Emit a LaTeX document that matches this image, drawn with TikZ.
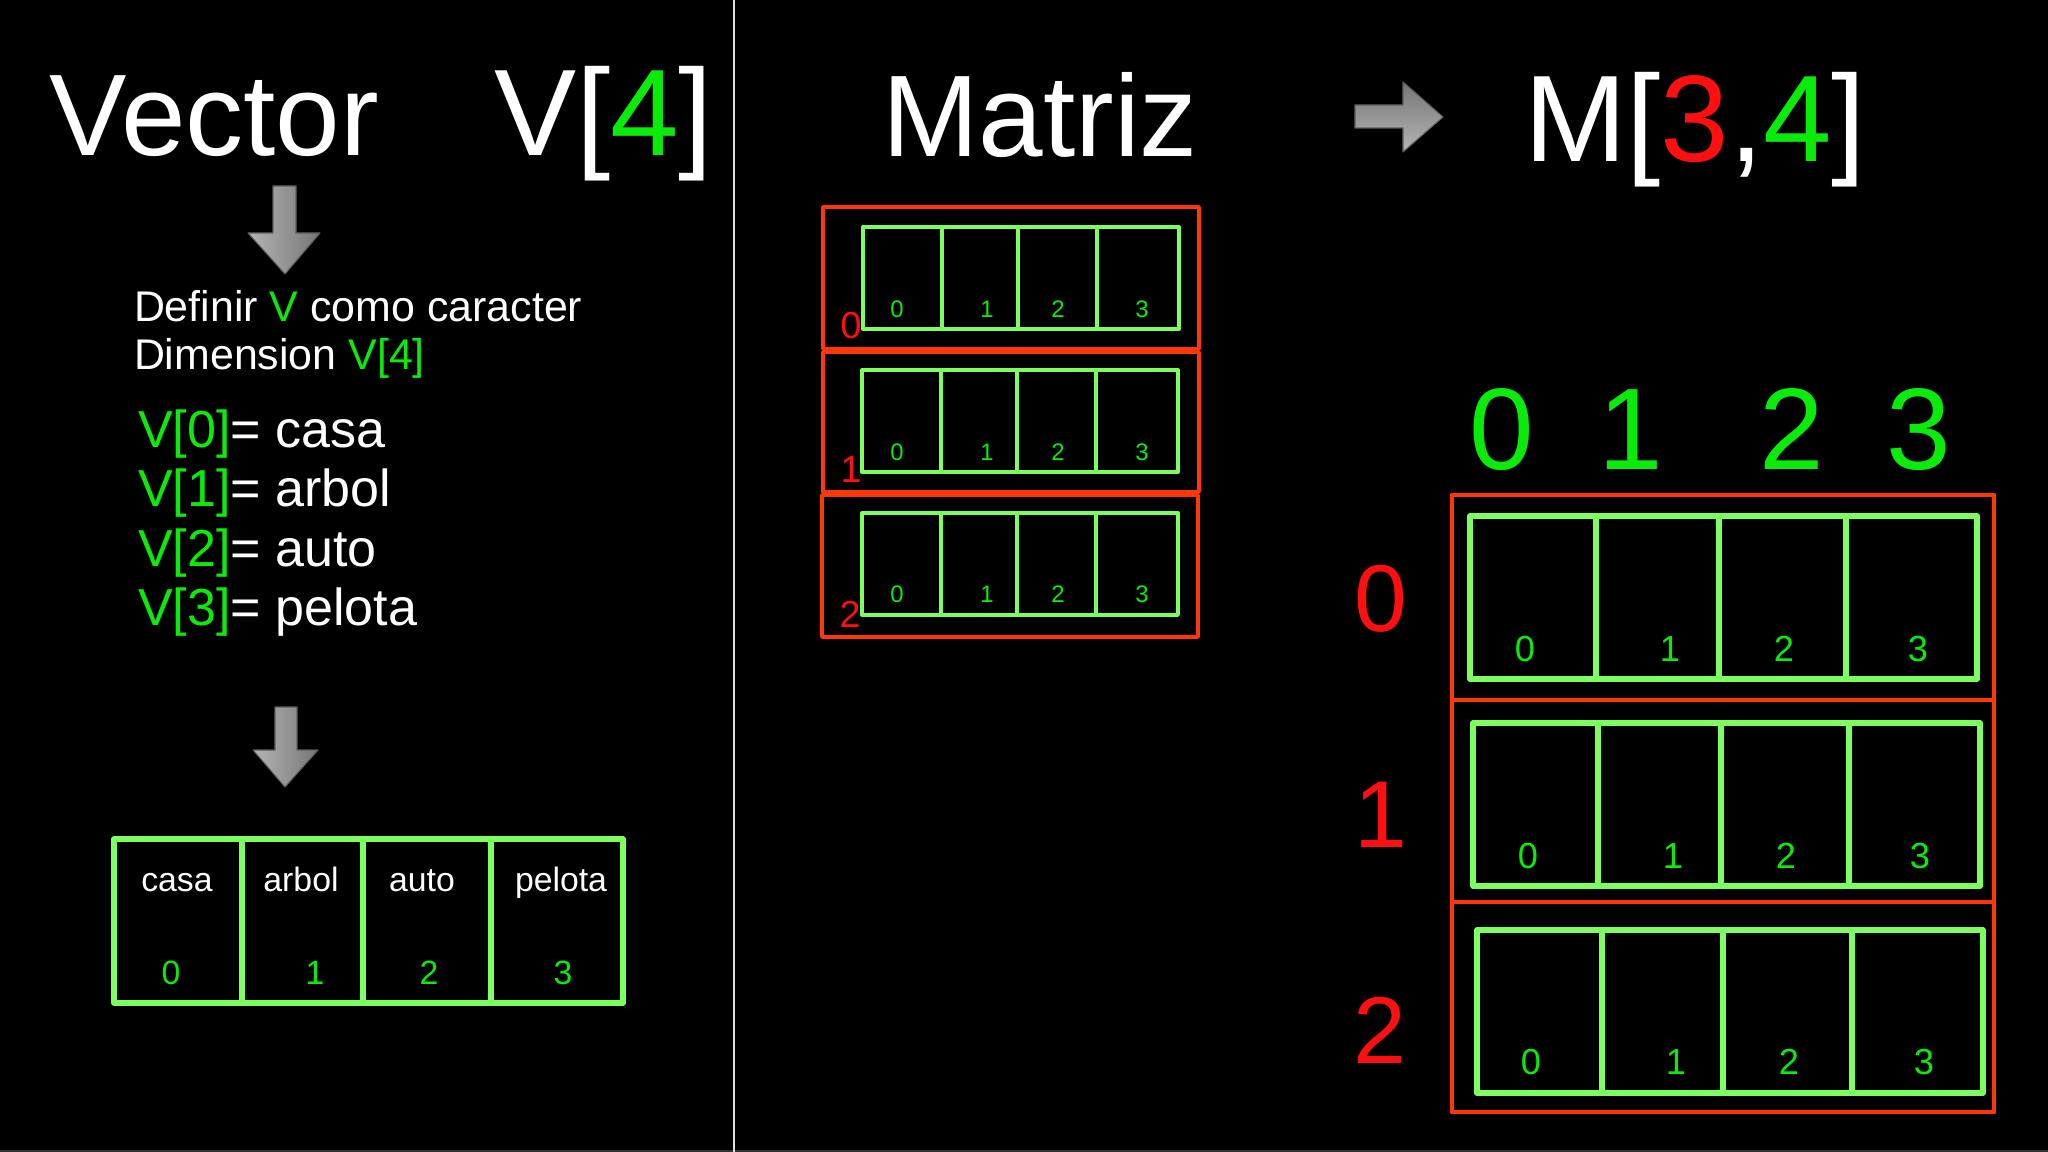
\documentclass[tikz,border=0pt]{standalone}
\usepackage{fontspec}
\setmainfont{Liberation Sans}
\definecolor{tgreen}{RGB}{10,235,10}
\definecolor{cgreen}{RGB}{125,255,95}
\definecolor{tred}{RGB}{255,15,15}
\definecolor{bred}{RGB}{255,55,10}
\definecolor{arrlight}{RGB}{180,180,180}
\definecolor{arrdark}{RGB}{118,118,118}
\begin{document}
\begin{tikzpicture}[x=0.01cm,y=-0.01cm,
  txt/.style={inner sep=0pt,outer sep=0pt,text=white},
  title/.style={txt,anchor=base west,font=\fontsize{33}{40}\selectfont},
  dimtitle/.style={txt,anchor=base west,font=\fontsize{35}{42}\selectfont},
  info/.style={txt,anchor=base west,font=\fontsize{12.2}{14}\selectfont},
  assign/.style={txt,anchor=base west,font=\fontsize{14.8}{17}\selectfont},
  word/.style={txt,anchor=base,font=\fontsize{9.6}{11}\selectfont},
  idx/.style={txt,anchor=base,text=tgreen,font=\fontsize{9.6}{11}\selectfont},
  smallidx/.style={txt,anchor=base,text=tgreen,font=\fontsize{6.8}{8}\selectfont},
  smallrow/.style={txt,anchor=base,text=tred,font=\fontsize{10.7}{12}\selectfont},
  bigidx/.style={txt,anchor=base,text=tgreen,font=\fontsize{10.3}{12}\selectfont},
  bigrow/.style={txt,anchor=base,text=tred,font=\fontsize{27}{32}\selectfont},
  colhead/.style={txt,anchor=base,text=tgreen,font=\fontsize{33}{40}\selectfont},
  cellg/.style={draw=cgreen,line width=1.5pt,line join=round,line cap=round},
  cellgs/.style={draw=cgreen,line width=0.95pt,line join=round},
  rowr/.style={draw=bred,line width=1.4pt,line join=round},
  rowrs/.style={draw=bred,line width=1pt,line join=round},
  blockarrow/.style={draw=arrdark!80!black,line width=0.3pt,line join=round}
]
% background and frame
\fill[black] (0,0) rectangle (2048,1152);
\useasboundingbox (0,0) rectangle (2048,1152);
\draw[black!80!white,line width=0.5pt] (0,1151) -- (2048,1151);
\draw[white!88!black,line width=0.6pt] (734,0) -- (734,1152);

% ---------- vector side ----------
\node[title] (vec) at (50,156) {Vector};
\node[dimtitle] (vdim) at (494,156) {V[\textcolor{tgreen}{4}]};

\shadedraw[blockarrow,left color=arrlight,right color=arrdark]
  (273,186) -- (296,186) -- (296,233) -- (320,233) -- (285,274)
  -- (248,233) -- (273,233) -- cycle;

\node[info] (def) at (134,322) {Definir \textcolor{tgreen}{V} como caracter};
\node[info] (dim) at (134,370) {Dimension \textcolor{tgreen}{V[4]}};

\node[assign] (a0) at (138,448) {\textcolor{tgreen}{V[0]}= casa};
\node[assign] (a1) at (138,507) {\textcolor{tgreen}{V[1]}= arbol};
\node[assign] (a2) at (138,567) {\textcolor{tgreen}{V[2]}= auto};
\node[assign] (a3) at (138,625) {\textcolor{tgreen}{V[3]}= pelota};

\shadedraw[blockarrow,left color=arrlight,right color=arrdark]
  (275,707) -- (297,707) -- (297,750) -- (318,750) -- (285,787)
  -- (253,750) -- (275,750) -- cycle;

% vector cells
\draw[cellg] (114,839) rectangle (623,1003);
\foreach \d in {242,363,491} \draw[cellg] (\d,839) -- (\d,1003);
\node[word] (w0) at (177,891) {casa};
\node[word] (w1) at (301,891) {arbol};
\node[word] (w2) at (422,891) {auto};
\node[word] (w3) at (561,891) {pelota};
\node[idx] (i0) at (171,984) {0};
\node[idx] (i1) at (315,984) {1};
\node[idx] (i2) at (429,984) {2};
\node[idx] (i3) at (563,984) {3};

% ---------- matrix side ----------
\node[title] (mat) at (882,157) {Matriz};
\shadedraw[blockarrow,top color=arrdark,bottom color=arrlight]
  (1355,105) -- (1403,105) -- (1403,82) -- (1443,117) -- (1403,152)
  -- (1403,128) -- (1355,128) -- cycle;
\node[dimtitle] (mdim) at (1524,162)
  {M[\textcolor{tred}{3},\textcolor{tgreen}{4}]};

% small matrix: three rows of four cells
\draw[rowrs] (823,207) rectangle (1199,349);
\draw[rowrs] (823,352) rectangle (1199,492);
\draw[rowrs] (822,495) rectangle (1198,637);
\foreach \xa/\ya/\xb/\yb/\da/\db/\dc in
  {863/227/1179/329/942/1018/1097,
   862/370/1178/472/941/1017/1096,
   862/513/1178/615/941/1017/1096}{
  \draw[cellgs] (\xa,\ya) rectangle (\xb,\yb);
  \foreach \d in {\da,\db,\dc} \draw[cellgs] (\d,\ya) -- (\d,\yb);
}
\foreach \r/\b in {0/318,1/461,2/603}{
  \foreach \c/\x in {0/897,1/987,2/1058,3/1142}
    \node[smallidx] (s\r c\c) at (\x,\b) {\c};
}
\node[smallrow] (sr0) at (851,339) {0};
\node[smallrow] (sr1) at (851,483) {1};
\node[smallrow] (sr2) at (850,627) {2};

% large matrix
\node[colhead] (h0) at (1502,470) {0};
\node[colhead] (h1) at (1631,470) {1};
\node[colhead] (h2) at (1792,470) {2};
\node[colhead] (h3) at (1919,470) {3};

\draw[rowr] (1452,495) rectangle (1994,700);
\draw[rowr] (1452,700) rectangle (1994,902);
\draw[rowr] (1452,902) rectangle (1994,1112);
\foreach \xa/\ya/\xb/\yb/\da/\db/\dc in
  {1470/516/1977/679/1596/1719/1846,
   1473/723/1980/886/1598/1721/1849,
   1477/930/1983/1093/1602/1723/1852}{
  \draw[cellg] (\xa,\ya) rectangle (\xb,\yb);
  \foreach \d in {\da,\db,\dc} \draw[cellg] (\d,\ya) -- (\d,\yb);
}
\foreach \r/\b/\xa/\xb/\xc/\xd in
  {0/662/1525/1670/1784/1918,
   1/868/1528/1673/1786/1920,
   2/1074/1531/1676/1789/1924}{
  \node[bigidx] (b\r c0) at (\xa,\b) {0};
  \node[bigidx] (b\r c1) at (\xb,\b) {1};
  \node[bigidx] (b\r c2) at (\xc,\b) {2};
  \node[bigidx] (b\r c3) at (\xd,\b) {3};
}
\node[bigrow] (br0) at (1381,631) {0};
\node[bigrow] (br1) at (1381,847) {1};
\node[bigrow] (br2) at (1380,1063) {2};
\end{tikzpicture}
\end{document}
